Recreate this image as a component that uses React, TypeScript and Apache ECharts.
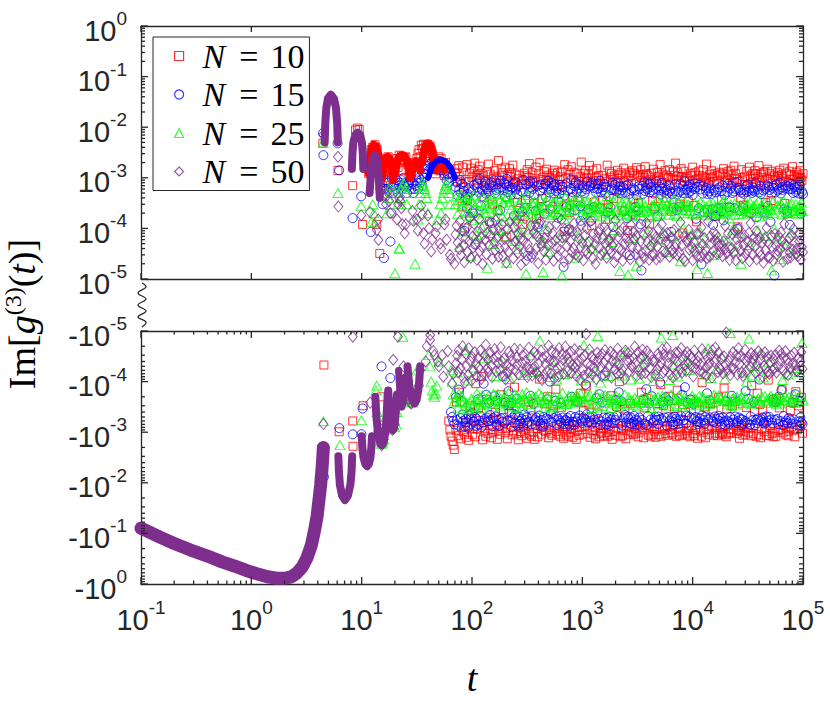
import React, { useEffect, useRef } from "react";
import * as echarts from "echarts";

// ================= data =================
// Mid-time values (t = 12.6 ... 69) are in units of 1e-4.
const UNIT = 1e-4;
const tMidA = [
  12.59, 13.18, 13.8, 14.45, 15.14, 15.85, 16.6, 17.38, 18.2, 19.05,
  19.95, 20.89, 21.88, 22.91, 23.99, 25.12, 26.3, 27.54, 28.84, 30.2,
  31.62, 33.11, 34.67, 36.31, 38.02, 39.81, 41.69, 43.65, 45.71, 47.86,
  50.12, 52.48, 54.95, 57.54, 60.26, 63.1, 66.07, 69.18,
];
const tMidB = [
  12.88, 13.49, 14.13, 14.79, 15.49, 16.22, 16.98, 17.78, 18.62, 19.5,
  20.42, 21.38, 22.39, 23.44, 24.55, 25.7, 26.92, 28.18, 29.51, 30.9,
  32.36, 33.88, 35.48, 37.15, 38.9, 40.74, 42.66, 44.67, 46.77, 48.98,
  51.29, 53.7, 56.23, 58.88, 61.66, 64.57, 67.61,
];
const m10a = [40, 45, 36, 18, -2, 12, 22, 26, 20, -7.8, 14, 24, 28, 27, 22, 26, 18, 10, 16, 20, 24, 36, 44, 46, 44, 46, 42, 30, 18, 22, 26, 24, 16, 20, 12, -9, -15, -22];
const m10b = [30, 40, 25, 8, 7, 16, 24, 15, 10, -3, 18, 16, 22, 14, 25, 20, 13, 12, 19, 13, 30, 26, 38, 30, 40, 34, 36, 22, 12, 17, 14, 20, 11, 15, -6, -12, -18];
const m15a = [26, 28, 22, 12, -0.5, 6, 9, 8, -0.85, 5, 8, 9, 7, 9, 10, 8, 7, 9, 8, 6, 8, 10, 9, 12, 15, 17, 19, 21, 23, 22, 20, 21, 18, 14, 12, 10, -5, -7];
const m15b = [20, 24, 16, 6, 3, 8, 6, 5, 2, 7, 6, 5, 8, 6, 7, 5, 8, 6, 5, 7, 6, 8, 7, 10, 12, 14, 16, 17, 19, 15, 17, 14, 12, 9, 8, -4, -6];
const m25a = [3, 1.3, -4, -12, -17, -14, -5, 4, 7, -3, -8, -4, 0.4, 6, 8, 5, -0.8, -2.2, -2.6, -2, -0.6, 3, 6, 7, 5, 2, -0.5, -1.5, -2, -1.2, -0.4, 2, 5, 7, 6, 3, -1, -2.5];
const m25b = [2, -1.5, -8, -15, -16, -9, 2, 6, 5, -6, -7, 3, 4, 7, 6, 3, -1.6, -2.5, -2.4, -1.4, 1.5, 5, 8, 6, 4, -0.3, -1, -1.8, -1.7, 1.5, 3, 4, 6, 8, 5, -0.6, -1.8];
const m50a = [24, 28, 12, -8, -18, -14, 3, 5.5, 2, -9, -7, 1.5, 4, 2.5, -0.5, 1.2, -1.5, -2.6, 2.2, -2.4, 1.5, -1.2, 2.8, 0.8, -0.4, 1.8, -0.15, 0.6, -0.3, 1.1, -0.5, 0.4, -0.8, 1.5, -0.25, 0.3, -1.1, 0.2];
const m50b = [27, 20, 1.5, -14, -17, -9, 4.5, 3.5, -4, -8.5, -3, 3, 3.5, 1.2, 0.8, -0.9, -2.2, -2.7, 1.4, -1.8, 0.9, -0.6, 1.9, 0.5, -0.2, 1.0, 0.35, -0.25, 0.8, -0.4, 0.5, -0.3, 1.2, 0.6, -0.5, 0.25, -0.7];

// Late-time samples (t = 70.8 ... 1e5). Values are given as signed codes c:
// value = sign(c) * 10^(-|c|/100), i.e. |c| is -log10|value| in hundredths.
const tLate = [
  70.79, 71.61, 72.44, 73.28, 74.13, 74.99, 75.86, 76.74, 77.62, 78.52, 79.43, 80.35, 81.28, 82.22, 83.18, 84.14, 85.11, 86.1, 87.1, 88.1,
  89.13, 90.16, 91.2, 92.26, 93.33, 94.41, 95.5, 96.61, 97.72, 98.86,
  100, 101.2, 102.3, 103.5, 104.7, 105.9, 107.2, 108.4, 109.6, 110.9, 112.2, 113.5, 114.8, 116.1, 117.5, 118.9, 120.2, 121.6, 123, 124.5,
  125.9, 127.4, 128.8, 130.3, 131.8, 133.4, 134.9, 136.5, 138, 139.6, 141.3, 142.9, 144.5, 146.2, 147.9, 149.6, 151.4, 153.1, 154.9, 156.7,
  158.5, 160.3, 162.2, 164.1, 166, 167.9, 169.8, 171.8, 173.8, 175.8, 177.8, 179.9, 182, 184.1, 186.2, 188.4, 190.5, 192.8, 195, 197.2,
  199.5, 201.8, 204.2, 206.5, 208.9, 211.3, 213.8, 216.3, 218.8, 221.3, 223.9, 226.5, 229.1, 231.7, 234.4, 237.1, 239.9, 242.7, 245.5, 248.3,
  251.2, 254.1, 257, 260, 263, 266.1, 269.2, 272.3, 275.4, 278.6, 281.8, 285.1, 288.4, 291.7, 295.1, 298.5, 302, 305.5, 309, 312.6,
  316.2, 319.9, 323.6, 327.3, 331.1, 335, 338.8, 342.8, 346.7, 350.8, 354.8, 358.9, 363.1, 367.3, 371.5, 375.8, 380.2, 384.6, 389, 393.6,
  398.1, 402.7, 407.4, 412.1, 416.9, 421.7, 426.6, 431.5, 436.5, 441.6, 446.7, 451.9, 457.1, 462.4, 467.7, 473.2, 478.6, 484.2, 489.8, 495.5,
  501.2, 507, 512.9, 518.8, 524.8, 530.9, 537, 543.3, 549.5, 555.9, 562.3, 568.9, 575.4, 582.1, 588.8, 595.7, 602.6, 609.5, 616.6, 623.7,
  631, 638.3, 645.7, 653.1, 660.7, 668.3, 676.1, 683.9, 691.8, 699.8, 707.9, 716.1, 724.4, 732.8, 741.3, 749.9, 758.6, 767.4, 776.2, 785.2,
  794.3, 803.5, 812.8, 822.2, 831.8, 841.4, 851.1, 861, 871, 881, 891.3, 901.6, 912, 922.6, 933.3, 944.1, 955, 966.1, 977.2, 988.6,
  1000, 1012, 1023, 1035, 1047, 1059, 1072, 1084, 1096, 1109, 1122, 1135, 1148, 1161, 1175, 1189, 1202, 1216, 1230, 1245,
  1259, 1274, 1288, 1303, 1318, 1334, 1349, 1365, 1380, 1396, 1413, 1429, 1445, 1462, 1479, 1496, 1514, 1531, 1549, 1567,
  1585, 1603, 1622, 1641, 1660, 1679, 1698, 1718, 1738, 1758, 1778, 1799, 1820, 1841, 1862, 1884, 1905, 1928, 1950, 1972,
  1995, 2018, 2042, 2065, 2089, 2113, 2138, 2163, 2188, 2213, 2239, 2265, 2291, 2317, 2344, 2371, 2399, 2427, 2455, 2483,
  2512, 2541, 2570, 2600, 2630, 2661, 2692, 2723, 2754, 2786, 2818, 2851, 2884, 2917, 2951, 2985, 3020, 3055, 3090, 3126,
  3162, 3199, 3236, 3273, 3311, 3350, 3388, 3428, 3467, 3508, 3548, 3589, 3631, 3673, 3715, 3758, 3802, 3846, 3890, 3936,
  3981, 4027, 4074, 4121, 4169, 4217, 4266, 4315, 4365, 4416, 4467, 4519, 4571, 4624, 4677, 4732, 4786, 4842, 4898, 4955,
  5012, 5070, 5129, 5188, 5248, 5309, 5370, 5433, 5495, 5559, 5623, 5689, 5754, 5821, 5888, 5957, 6026, 6095, 6166, 6237,
  6310, 6383, 6457, 6531, 6607, 6683, 6761, 6839, 6918, 6998, 7079, 7161, 7244, 7328, 7413, 7499, 7586, 7674, 7762, 7852,
  7943, 8035, 8128, 8222, 8318, 8414, 8511, 8610, 8710, 8810, 8913, 9016, 9120, 9226, 9333, 9441, 9550, 9661, 9772, 9886,
  10000, 10116, 10233, 10351, 10471, 10593, 10715, 10839, 10965, 11092, 11220, 11350, 11482, 11614, 11749, 11885, 12023, 12162, 12303, 12445,
  12589, 12735, 12882, 13032, 13183, 13335, 13490, 13646, 13804, 13964, 14125, 14289, 14454, 14622, 14791, 14962, 15136, 15311, 15488, 15668,
  15849, 16032, 16218, 16406, 16596, 16788, 16982, 17179, 17378, 17579, 17783, 17989, 18197, 18408, 18621, 18836, 19055, 19275, 19498, 19724,
  19953, 20184, 20417, 20654, 20893, 21135, 21380, 21627, 21878, 22131, 22387, 22646, 22909, 23174, 23442, 23714, 23988, 24266, 24547, 24831,
  25119, 25410, 25704, 26002, 26303, 26607, 26915, 27227, 27542, 27861, 28184, 28510, 28840, 29174, 29512, 29854, 30200, 30549, 30903, 31261,
  31623, 31989, 32359, 32734, 33113, 33497, 33884, 34277, 34674, 35075, 35481, 35892, 36308, 36728, 37154, 37584, 38019, 38459, 38905, 39355,
  39811, 40272, 40738, 41210, 41687, 42170, 42658, 43152, 43652, 44157, 44668, 45186, 45709, 46238, 46774, 47315, 47863, 48417, 48978, 49545,
  50119, 50699, 51286, 51880, 52481, 53088, 53703, 54325, 54954, 55590, 56234, 56885, 57544, 58210, 58884, 59566, 60256, 60954, 61660, 62373,
  63096, 63826, 64565, 65313, 66069, 66834, 67608, 68391, 69183, 69984, 70795, 71614, 72444, 73282, 74131, 74989, 75858, 76736, 77625, 78524,
  79433, 80353, 81283, 82224, 83176, 84140, 85114, 86099, 87096, 88105, 89125, 90157, 91201, 92257, 93325, 94406, 95499, 96605, 97724, 98855,
  100000,
];

const c10 = [
  289, -304, -360, 282, 307, -293, 276, -379, 298, 310, -287, -309, 356, 279, -301, 318, -296, 399, -319, 303,
  -290, 274, 344, -313, -284, 308, 292, -352, -328, 281, 299, -295, 370, -307, 287, 271, -291, -396, 305, 295,
  -306, 284, -347, 300, 277, -323, 291, -410, 311, -285, -314, 296, 339, -303, 306, -292, 319, -365, 288, -297,
  273, -321, 386, 293, -305, -289, 315, 352, -300, 297, -326, 286, -339, 309, 300, -311, -286, 364, 266, -304,
  304, -296, -374, 283, 296, -307, 290, -345, -320, 312, 279, -299, 417, -308, -287, 294, 307, -353, 282, -324,
  298, 289, -337, -295, 275, -303, 310, -389, 293, 320, -317, -297, 349, 302, -285, -309, 295, 375, -301, 313,
  -293, 305, 392, -306, -318, 291, -298, 343, 296, -288, 284, -314, -360, 299, 272, -295, 311, -344, -292, 290,
  308, -300, 351, -286, 301, -322, 279, 380, -307, -291, 314, 292, -405, 270, -313, 304, -296, 341, -310, 299,
  -304, 288, -356, 312, -301, 283, 306, -370, 295, -289, -305, 300, 362, -298, 309, -294, 291, -340, 303, 285,
  -308, 296, -385, -302, 317, 290, -296, 347, -313, 304, -292, 298, -349, 287, 313, -300, -288, 406, 274, -311,
  301, -295, 354, -306, 284, -292, -321, 369, 293, -299, 278, -308, 338, -290, 304, 289, -315, -362, 311, -286,
  292, -303, 346, 307, -294, -310, 298, -377, 269, -305, 315, -296, -343, 291, 302, -312, 286, -391, 299, 308,
  -298, 294, -354, 276, -290, 311, -319, 395, -303, 285, 306, -295, 348, -309, -287, 300, 282, -338, -314, 296,
  305, -291, 360, -300, 313, -297, 295, 344, -308, -293, 302, -316, 382, 307, -299, 275, -292, 353, -305, 287,
  -295, 299, -372, 292, -286, 304, -302, 341, 296, -318, 309, -294, -351, 301, 285, -307, 294, -400, 316, -291,
  290, -306, 365, -293, -304, 281, 308, -346, 293, -287, -313, 305, 404, -296, 300, -310, 289, -357, 296, 312,
  -300, 286, 342, -295, 291, -308, -297, 374, 280, -304, 294, -291, 350, -300, -318, 298, 284, -379, 305, -309,
  295, -289, -348, 300, 278, -314, 292, -366, 309, 296, -294, -306, 391, 304, -292, 291, -311, 345, -296, 283,
  311, -302, 357, -290, -307, 302, 289, -341, 297, -295, 305, 274, -394, -292, 310, -308, 293, -353, 298, -304,
  286, -297, 340, 295, -311, -294, 300, -371, 284, -305, 313, -299, 366, -296, 302, 288, -314, -347, 295, 271,
  -292, 304, -383, 290, 297, -301, -293, 352, -306, 282, 299, -295, 409, -317, 287, 306, -298, -339, 301, -303,
  298, -294, 347, -308, 305, -291, 292, -364, -313, 296, 279, -297, 355, -293, 290, -305, 303, 387, -310, -288,
  301, 287, -344, 295, -304, 309, -292, -398, 297, 284, -300, 306, -350, -289, 302, 273, -307, 363, -296, 308,
  -305, 293, -356, 300, 286, -312, 298, -342, -294, 307, 292, -298, 376, -306, 296, -293, 312, -369, 289, -297,
  294, -309, 343, -296, -300, 291, 282, -387, 310, -295, 299, -291, -346, 305, 288, -298, 293, 359, -307, 285,
  -299, 296, -352, 309, -305, 277, 301, -361, 292, -310, -297, 303, 397, -301, 307, -288, -304, 340, 284, -314,
  306, -294, 354, -302, 298, 313, -296, -349, 287, -307, 302, -300, 368, 279, -309, 298, -293, -392, 310, 292,
  -297, 301, -341, 286, 294, -292, 309, -377, 298, -295, 276, 305, -355, -289, 293, -307, 300, -344, 289, 314,
  -301, 288, 349, -306, -293, 302, 283, -403, 311, -294, 292, -313, 345, 287, -297, 304, -291, -360, 295, -300,
  304, -292, -366, 297, 290, -303, 298, -348, 285, 308, -305, 294, -384, 302, -299, 281, -314, 351, 306, -295,
  291, -307, 371, -293, -302, 309, 287, -343, 295, -310, 303, 278, -358, -304, 297, -291, 312, -380, 289, 298,
  -305, 294, -352, 301, 286, -312, 299, -369, 305, -298, 292,
];
const c15 = [
  318, -369, 309, -324, 335, -313, -384, 323, 304, -328, 330, -361, 312, -335, -322, 326, 405, -311, 339, -326,
  -320, 360, 332, -309, -333, 321, 377, -325, 328, -316, -338, 368, 324, -321, 314, -330, 432, -313, -327, 319,
  311, -365, -315, 329, 303, -332, 356, -310, 337, 325, -319, -396, 316, -326, 308, 331, -374, -329, 322, -322,
  327, -358, 313, -334, -324, 309, 389, -312, -328, 318, 305, -371, 330, -331, 324, -315, -362, 312, 321, -325,
  -313, 364, 306, -327, 319, -321, -410, 325, 310, -318, 338, -359, 314, 302, -323, 328, -381, 317, -340, 323,
  334, -357, -310, 320, -329, 312, 375, -319, -334, 308, 323, -366, 332, -313, 316, -331, 361, -322, 326, -317,
  -326, 367, 329, -312, 304, -335, 360, -324, 313, -330, -318, 454, 311, -321, 330, 307, -372, 319, -315, -332,
  322, -356, 310, 333, -325, -314, 365, -329, 316, 398, -322, 391, -333, 326, -317, 313, 359, -324, -311, 320,
  -330, 371, -316, 312, 339, -327, -365, 317, 306, -325, 329, -400, 322, -336, 310, -320, 357, 315, -328, 331,
  313, -362, 326, -331, -315, 321, 379, -326, 332, -322, 314, -358, -319, 324, 318, -329, 476, -316, 335, -323,
  -324, 358, 311, -328, 325, -317, 402, -313, -332, 322, 303, -370, 328, -320, -314, 316, 364, -330, 309, -321,
  328, -360, -327, 314, 321, -333, 356, 385, -323, 327, -318, 373, -329, 319, 330, -324, -394, 323, -335, 307,
  -319, 362, 317, -322, -330, 315, 385, -317, 309, -331, 320, 358, -325, 313, -319, 329, -367, 322, 311, -326,
  321, -375, 306, -314, 329, -321, -359, 324, 318, -329, 312, -412, 331, 319, -315, -328, 368, -320, 337, -313,
  -331, 359, 324, -325, 310, -318, 397, -330, 322, 314, -324, -363, 327, -332, 309, 323, -379, 330, -317, 318,
  325, -361, -313, 331, 319, -327, 366, -334, 329, -319, 315, 380, -331, 313, -326, 332, 453, -318, -329, 324,
  -316, 371, 321, -320, -332, 324, 358, -325, 334, -315, -322, 365, 317, -329, 322, -313, 392, 483, -324, 316,
  332, -364, 309, -317, 326, 320, -385, -314, 323, -332, 313, -357, 329, 311, -325, 318, -371, 325, -319, 331,
  -323, 361, -330, 322, 308, -324, 376, -316, -331, 325, 317, -398, 333, -327, 310, 321, -360, -322, 328, -329,
  319, -369, 324, -313, 331, -330, -362, 315, 327, -323, 321, 407, -328, 332, -320, -315, 359, -331, 313, 326,
  -327, 364, 333, -322, -316, 328, 357, -325, 312, -332, 325, -374, 316, 330, -324, 307, -389, 323, -317, -333,
  324, -358, 317, 329, -331, 313, -365, 326, -328, 319, 334, -356, -326, 322, 311, -330, 381, -322, 318, -316,
  -321, 360, 314, -327, 323, -319, 471, -333, 331, 316, -324, 368, -317, -330, 325, 320, -377, 332, -325, 312,
  327, -363, -329, 321, 332, -323, 362, 393, -320, 325, -331, 375, 329, -318, -326, 323, 361, -332, 319, -322,
  -328, 366, 326, -316, 315, -329, 384, -321, 334, -314, 319, -361, -323, 328, 312, -320, 358, -317, -330, 321,
  316, -372, 330, -319, -325, 327, 360, -331, 322, 309, -318, 401, -322, 320, -329, 325, 365, -326, 329, -314,
  -325, 359, -317, 332, 324, -322, -381, 316, 328, -319, 313, -366, 326, 321, -315, -331, 370, 330, -323, 324,
  320, -360, 327, -314, 311, -324, 378, -318, -327, 323, 329, -404, -322, 317, 332, -325, 363, -329, 325, -320,
  -317, 369, 322, -331, -319, 315, 356, -323, 318, -330, 324, 387, -325, 331, -318, 320, -365, 316, 493, -324,
  329, -359, 313, -326, 325, -316, -370, 322, 310, -322, 331, -383, 319, 324, -314, -332, 362, -319, 321, 315,
  -323, 365, -318, 317, -328, 323, 393, -324, 312, -317, 322, -358, 330, 315, -325, 319, -375, 328, -315, 323,
  318, -362, 331, -321, 314, -329, 371, -319, 327, -316, 332,
];
const c25 = [
  352, -368, 337, -418, 371, -349, -376, 344, 437, -362, 333, -371, 358, 406, -345, -360, 347, 366, -463, 341,
  -357, 369, 350, -402, -347, 339, 375, -358, 455, -366, 346, 383, -352, -428, 335, 357, -363, -349, 412, -377,
  348, -361, 364, 421, -369, -354, 380, -347, 399, -373, 338, 367, -360, -447, 351, -356, 370, -365, 478, 359,
  -372, 345, -358, 409, 356, -364, -350, 340, 431, -376, 353, -362, 377, -411, -368, 362, 332, -375, 403, -355,
  365, -351, 343, -436, -359, 376, 349, -366, 416, 385, -373, 341, -357, 468, 336, -363, -378, 354, -405, 347,
  -359, 361, -367, 398, 374, -352, 339, -374, 425, -360, 371, -349, -371, 441, 380, -358, 352, -365, 407, -346,
  342, -375, 358, -413, -365, 367, 354, -361, 489, -379, 362, 334, -356, 402, -367, -350, 359, 372, -452, 350,
  -368, 353, 379, -419, 347, -370, -357, 364, 410, -364, 356, -377, 369, -481, 343, 360, -372, -359, 429, 486,
  357, -363, -349, 401, 345, -358, 366, -371, 446, 337, -366, 378, -352, -409, 361, -349, 373, 348, -433, -369,
  -354, 368, 346, -404, -362, 356, 372, -350, 418, -368, 342, -360, 367, 493, -378, 352, -355, 381, -415, 339,
  364, -356, 371, -440, 358, -372, -363, 349, 405, -359, 351, 365, -370, -417, 344, -367, 362, -357, 458, -373,
  -361, 350, -369, 414, 338, -365, 357, -376, -402, 373, 348, -362, 359, -472, 377, 346, -358, -371, 426, 366,
  347, -370, 363, -408, -374, 352, 368, -348, 439, -364, -357, 374, 343, -421, 356, -375, 350, 362, -490, -351,
  -366, 359, 355, -398, 375, -369, -352, 361, 412, -358, 369, -373, -363, 451, 364, 336, -370, 357, -411, 372,
  360, -348, -365, 427, 370, -359, 345, -367, 403, 379, -356, -372, 363, -437, 341, -364, 367, -368, 484, -357,
  -351, 374, 349, -412, -358, 363, 356, -374, -459, 347, 372, -355, 360, 491, -369, 351, -363, 365, -404, 376,
  366, -362, -354, 419, 346, -368, 359, -357, 474, -364, -351, 355, 368, -406, 348, -359, 374, -366, -429, 361,
  -358, 349, 367, -445, 357, -353, -367, 364, 408, -362, 366, -358, -373, 432, 378, -348, 355, 360, -401, -363,
  353, -366, 358, -416, -362, 375, 344, -370, 422, -356, 349, 371, -364, -487, 365, -372, 352, -361, 409, 345,
  -370, 362, -357, 447, 352, -363, 373, -351, -403, 356, 360, -374, 350, 415, -492, 343, -367, 372, -434, -365,
  361, -352, 375, -410, 347, -371, -356, 358, 465, -366, 354, -350, 363, 400, -362, -369, 348, 356, -442, 364,
  -363, 370, 353, -423, -353, 366, 358, -359, 411, -372, 371, -363, -357, 438, 350, -366, 373, -354, 480, -360,
  355, -361, -372, 406, 348, -357, 368, -369, 429, 352, -368, 365, -351, -414, 374, 357, -364, 488, -466, 366,
  -356, 351, 363, -407, 372, -365, -359, 349, 453, -374, 357, 362, -361, -425, 369, -367, 355, -372, 417, 371,
  368, -367, 352, -449, 359, 346, -362, 370, -405, -364, 363, 349, -371, 424, -355, 366, 380, -360, -496, 353,
  -352, 364, -366, 402, -368, 373, 351, -355, 444, 361, -370, 354, -363, 409, 372, -358, -366, 363, 470, -371,
  359, -357, 371, -418, 350, -369, 365, 356, -400, 352, 368, -359, -485, 433, 349, -366, 360, -355, -412, 362,
  -365, 355, 360, -431, -357, 352, 369, -363, 404, -367, 344, 376, -358, -457, 366, 353, -369, 359, -408, 370,
  350, -371, 366, 415, -364, -358, 361, 373, -439, -368, 356, 363, -372, 483, -361, 369, 347, -366, 401, -359,
  -368, 362, -355, 420, 354, -363, -370, 358, 461, -357, 351, -369, 372, -403, 359, 346, -362, -371, 436, 367,
  356, -364, 368, -414, -369, 360, 353, -362, 408, 350, -366, 365, -360, 448, -373, 364, -358, 352, -427, 371,
  -361, 358, 369, -419, 355, -372, 363, 349, -476, 366, -363,
];
const c50 = [
  412, -436, 395, -451, 428, -419, -462, 441, 386, -427, 453, -444, 404, -470, -408, 433, 467, -398, 420, -455,
  -431, 398, 447, -413, -466, 425, 379, -440, 458, -402, -449, 416, 438, -421, 391, -458, 430, -435, -410, 462,
  407, -447, -428, 381, 445, -461, 417, -405, 436, 470, -438, -416, 396, -452, 423, -473, 451, 409, -426, -443,
  -419, 433, 389, -457, 414, -432, -409, 460, 402, -445, 427, -464, 443, 384, -420, -450, 418, -437, 456, 399,
  440, -423, -468, 410, 392, -439, 455, -413, -446, 421, 437, -404, 468, -433, -418, 401, 446, -459, 388, -427,
  -451, 415, 432, -441, -407, 459, 397, -465, 426, -422, 385, -448, -434, 449, 411, -414, 435, -463, 420, 472,
  403, -437, -452, 425, 448, -418, 380, -441, 463, -429, -409, 431, 413, -467, 442, -424, -448, 395, 457, -412,
  -425, 450, 408, -458, -430, 393, 440, -417, 415, -453, 469, -436, -411, 422, 387, -461, 434, -403, -447, 426,
  445, -413, 419, -435, 462, -449, -421, 406, 432, -471, 398, -442, 451, -416, -460, 429, 410, -439, 464, -406,
  -440, 424, -456, 391, 438, -426, 454, -410, -466, 413, 443, -431, 383, -454, 418, -443, -415, 466, 402, -469,
  416, -452, 435, -420, -445, 403, 460, -438, 425, -459, -417, 447, 405, -433, 439, 390, -464, -428, 452, -411,
  -434, 409, -441, 456, 421, -460, -404, 437, 394, -446, 428, -423, 463, -412, -451, 414, 444, -494, 400, -436,
  449, -418, 427, -463, 387, -432, 441, -450, -414, 459, 411, -444, -427, 432, 470, -405, 419, -457, -439, 408,
  -447, 438, 401, -429, 453, -411, -455, 420, 446, -437, 396, -462, 430, -419, 458, 404, -449, 424, -430, 441,
  423, -459, 448, -408, -441, 434, 412, -453, 467, -425, 384, -439, 455, -416, -465, 417, 439, -433, 406, -452,
  -416, 442, -424, 464, 399, -450, 431, -405, -461, 419, 450, -442, 408, -456, 427, -420, -444, 461, 393, -431,
  436, -428, 407, -446, 422, -469, -436, 451, 415, -411, 440, -458, -422, 397, 466, -447, 425, -415, 448, -463,
  -450, 413, 458, -433, -417, 444, 389, -460, 428, -440, 405, 462, -427, -452, 435, -409, 453, -442, 410, 429,
  452, -441, -413, 418, 461, -423, 436, -455, 401, -448, -431, 457, 420, -437, 392, -464, 445, -418, -454, 415,
  -423, 447, 426, -467, 409, -435, -449, 430, 456, -414, 418, -452, 443, -429, -408, 449, 403, -445, 437, -457,
  430, -414, 453, -439, -458, 412, 447, -424, 388, -466, 434, -418, -443, 460, 416, -432, 465, -451, -421, 425,
  -458, 421, -437, 403, 442, -453, 418, -431, -447, 438, 463, -410, 427, -461, 445, -426, -436, 411, 455, -440,
  411, -449, 440, -421, -434, 457, 398, -464, 432, -417, 451, 419, -455, 442, -428, -412, 459, -446, 386, -433,
  -437, 456, 416, -452, 430, -408, -462, 445, 407, -439, 424, -467, 413, -444, 450, 427, -419, -457, 434, -426,
  447, -424, -446, 433, 455, -416, 426, -450, 441, 395, -433, -497, 449, -422, 410, -441, 438, 462, -413, -449,
  -428, 439, 412, -458, -425, 448, 404, -437, 463, -452, 421, -414, 435, -466, 400, -435, -450, 444, 417, -418,
  459, -411, 433, -445, 414, -463, 451, -420, -440, 426, 443, -448, 409, 465, -429, 390, -456, 431, -438, 452,
  -445, 418, -452, 437, -417, 406, 461, -434, 422, -460, -424, 446, 419, -443, 454, -453, 428, -410, 468, -431,
  420, -458, 443, -426, 399, -448, -419, 456, 430, -415, 458, -438, -451, 415, 437, -422, 464, -444, -427, 411,
  -453, 434, -418, 452, 444, -430, 415, -461, -442, 441, 408, -455, 425, -423, 466, -447, 391, 432, -460, -416,
  433, -444, 460, -413, -436, 419, 448, -426, 457, -451, 414, -435, 442, 401, -457, 428, -433, 450, -421, 440,
  -420, 455, -447, 426, 411, -439, 462, -458, 437, -425, 447,
];

// sparse early points of each series (units of 1e-4)
const e10T = [4.45, 4.5, 4.55, 6.1, 6.25, 8.28, 8.3, 8.8, 9.15, 9.5, 8.35, 10.2, 10.3, 11.6, 11.9, 12.2, 13.7, 14.6];
const e10V = [48, -51, -0.47, 14, -9.8, 7, -6, 88, 96, 90, -19, 1.2, -3, 12, 25, 36, 1.2, 0.32];
const e15T = [4.48, 4.5, 4.52, 4.55, 6.05, 6.25, 6.28, 8.28, 8.3, 9.9, 10.2, 9.95, 12.1, 15.9, 18.2];
const e15V = [77, 28, -21, -76, 48, 14, -8.3, 1.6, -11, 4.3, -3.4, -11, 0.85, 0.26, 0.55];
const e25T = [4.48, 4.5, 6.1, 6.35, 9.9, 9.95, 12.3, 13.7, 20, 21.9, 23.6, 30.5];
const e25V = [50, -6.1, 5, -18, 2.8, -5.8, 1.35, -1.2, 0.13, 0.4, -0.13, 0.2];
const e50T = [4.48, 4.5, 6.1, 6.15, 8.3, 9.9, 11.9, 11.95, 13.7, 14.2, 19.3, 21.3, 41.8];
const e50V = [70, -6.9, 26, 2.7, -0.13, 1.8, 2.1, -2.6, 0.93, 0.59, -0.37, -0.13, -0.12];

// dense (overlapping-marker) parts: curve values absolute, lobes/arches in 1e-4
const curveT = [0.1, 0.15, 0.2, 0.3, 0.4, 0.55, 0.7, 0.9, 1.1, 1.4, 1.7, 2.0, 2.3, 2.6, 2.9, 3.2, 3.5, 3.75, 3.95, 4.1, 4.25, 4.38, 4.5];
const curveV = [-0.079, -0.12, -0.158, -0.225, -0.28, -0.37, -0.44, -0.54, -0.62, -0.72, -0.77, -0.77, -0.72, -0.6, -0.46, -0.3, -0.17, -0.085, -0.045, -0.022, -0.011, -0.005, -0.002];
const lobeAT = [4.62, 4.68, 4.78, 4.95, 5.25, 5.6, 5.85, 6.0, 6.08];
const lobeAV = [50, 120, 240, 370, 440, 370, 240, 120, 50];
const lobeBT = [8.15, 8.25, 8.4, 8.75, 9.2, 9.7, 10.05, 10.25, 10.35];
const lobeBV = [15, 30, 50, 70, 78, 70, 50, 30, 15];
const lobeCT = [11.8, 12.2, 12.7, 13.2, 13.8, 14.3, 14.6];
const lobeCV = [5, 14, 24, 28, 22, 10, 4];
const lobeDT = [6.15, 6.22, 6.35, 6.65, 7.05, 7.5, 7.9, 8.1, 8.2];
const lobeDV = [-30, -60, -110, -180, -220, -180, -110, -60, -30];
const lobeET = [10.0, 10.15, 10.4, 10.8, 11.2, 11.6, 12.0, 12.25, 12.4];
const lobeEV = [-12, -20, -32, -43, -47, -43, -32, -20, -12];
const lobeFT = [13.3, 13.6, 14.1, 14.8, 15.3, 15.9, 16.5, 16.9, 17.2];
const lobeFV = [-2, -5, -11, -17, -18, -15, -9, -4, -1.8];
const lobeGT = [17.4, 17.8, 18.4, 19.1, 19.8, 20.4, 20.9];
const lobeGV = [-1.5, -3.5, -7, -9, -7.5, -4, -1.8];
const lobeG2T = [21.6, 22.3, 23.2, 24.2, 25.0];
const lobeG2V = [-0.6, -1.8, -3.2, -2.2, -0.8];
const lobeHT = [26, 27, 28.5, 30, 31.5, 33, 34];
const lobeHV = [-0.5, -1.2, -2.2, -2.7, -2.3, -1.2, -0.5];
const redArchT = [
  [11.6, 11.9, 12.3, 12.9, 13.5, 14.1, 14.6],
  [15.4, 15.9, 16.6, 17.3, 18.0, 18.7, 19.2],
  [20.1, 20.8, 21.8, 23.0, 24.3, 25.6, 26.8, 27.5],
  [28.3, 29.5, 31.0, 32.5, 34.0],
  [35.5, 36.5, 38.0, 40.0, 42.0, 44.0, 45.8],
  [46.5, 48.5, 51.0, 53.5, 56.0],
];
const redArchV = [
  [12, 25, 38, 45, 42, 30, 15],
  [10, 18, 24, 26, 23, 16, 9],
  [12, 20, 26, 28, 27, 22, 15, 10],
  [12, 18, 21, 19, 14],
  [20, 32, 44, 48, 44, 32, 20],
  [14, 20, 22, 20, 14],
];
const blueArchT = [40, 43, 47, 52, 58, 64, 70];
const blueArchV = [10, 16, 21, 23, 21, 16, 10];

const legendNames = ["N = 10", "N = 15", "N = 25", "N = 50"];
const decadesX = [0.1, 1, 10, 100, 1000, 10000, 100000];
const decadesY = [1e-5, 1e-4, 1e-3, 1e-2, 1e-1, 1];

// ================= styling =================
const AX = "#262626";
const SANS = "Liberation Sans";
const SERIF = "Liberation Serif";
const RED = "#FF0000";
const BLUE = "#0000FF";
const GREEN = "#00FF00";
const PURPLE = "#7E2F8E";

const SER = [
  { name: legendNames[0], color: RED, symbol: "rect", size: 8 as any, ma: m10a, mb: m10b, c: c10, eT: e10T, eV: e10V },
  { name: legendNames[1], color: BLUE, symbol: "circle", size: 9 as any, ma: m15a, mb: m15b, c: c15, eT: e15T, eV: e15V },
  { name: legendNames[2], color: GREEN, symbol: "triangle", size: [10, 9] as any, ma: m25a, mb: m25b, c: c25, eT: e25T, eV: e25V },
  { name: legendNames[3], color: PURPLE, symbol: "diamond", size: [9, 11] as any, ma: m50a, mb: m50b, c: c50, eT: e50T, eV: e50V },
];

function pick(ts: number[], vs: number[], scale: number, sign: number) {
  const out: number[][] = [];
  for (let i = 0; i < Math.min(ts.length, vs.length); i++) {
    const v = vs[i] * scale;
    if (sign > 0 ? v > 0 : v < 0) out.push([ts[i], Math.abs(v)]);
  }
  return out;
}
function pickCodes(ts: number[], cs: number[], sign: number) {
  const out: number[][] = [];
  for (let i = 0; i < Math.min(ts.length, cs.length); i++) {
    const c = cs[i];
    if (sign > 0 ? c > 0 : c < 0) out.push([ts[i], Math.pow(10, -Math.abs(c) / 100)]);
  }
  return out;
}

const minorXVals: number[] = [];
for (let d = -1; d < 5; d++) for (let m = 2; m <= 9; m++) minorXVals.push(m * Math.pow(10, d));
const minorYVals: number[] = [];
for (let d = -5; d < 0; d++) for (let m = 2; m <= 9; m++) minorYVals.push(m * Math.pow(10, d));

const richLab = {
  b: { fontFamily: SANS, fontSize: 29, lineHeight: 29, color: AX, verticalAlign: "bottom" },
  s: { fontFamily: SANS, fontSize: 19, lineHeight: 19, color: AX, verticalAlign: "bottom", padding: [0, 0, 17, 0] },
};
const expOf = (v: number) => Math.round(Math.log10(v));
const lineSt = { color: AX, width: 1.3 };

function logX(grid: number, pos: string, labels: boolean) {
  return {
    type: "log", logBase: 10, gridIndex: grid, position: pos, min: 0.1, max: 1e5,
    axisLine: { show: true, onZero: false, lineStyle: lineSt },
    axisTick: { show: false },
    axisLabel: labels
      ? { show: true, margin: 21, formatter: (v: number) => `{b|10}{s|${expOf(v)}}`, rich: richLab }
      : { show: false },
    splitLine: { show: false },
  };
}
function logY(grid: number, pos: string, inverse: boolean, labels: boolean, prefix: string) {
  return {
    type: "log", logBase: 10, gridIndex: grid, position: pos, min: 1e-5, max: 1, inverse,
    axisLine: { show: true, onZero: false, lineStyle: lineSt },
    axisTick: { show: false },
    axisLabel: labels
      ? { show: true, margin: 14, padding: [9, 0, 0, 0], formatter: (v: number) => `{b|${prefix}10}{s|${expOf(v)}}`, rich: richLab }
      : { show: false },
    splitLine: { show: false },
  };
}

// tick marks drawn through the axes' own scales
function ticks(xi: number, yi: number, vals: number[], dir: "x" | "y", len: number) {
  return {
    type: "custom", xAxisIndex: xi, yAxisIndex: yi, silent: true, clip: false, z: 5,
    data: vals.map((v) => (dir === "x" ? [v, 1e-2] : [1, v])),
    renderItem: (params: any, api: any) => {
      const cs = params.coordSys;
      const p = api.coord([api.value(0), api.value(1)]);
      const st = { stroke: AX, lineWidth: 1.3 };
      if (dir === "x") {
        const x = p[0], yb = cs.y + cs.height, yt = cs.y;
        return {
          type: "group", children: [
            { type: "line", shape: { x1: x, y1: yb, x2: x, y2: yb - len }, style: st },
            { type: "line", shape: { x1: x, y1: yt, x2: x, y2: yt + len }, style: st },
          ],
        };
      }
      const y = p[1], xl = cs.x, xr = cs.x + cs.width;
      return {
        type: "group", children: [
          { type: "line", shape: { x1: xl, y1: y, x2: xl + len, y2: y }, style: st },
          { type: "line", shape: { x1: xr, y1: y, x2: xr - len, y2: y }, style: st },
        ],
      };
    },
  };
}

function buildOption() {
  const series: any[] = [];
  const band = (ts: number[], vs: number[], scale: number, top: boolean, w: number, color: string) => ({
    type: "line", xAxisIndex: top ? 0 : 1, yAxisIndex: top ? 0 : 2, symbol: "none", silent: true,
    lineStyle: { color, width: w, cap: "round", join: "round" }, clip: true,
    data: ts.map((t, i) => [t, Math.abs(vs[i] * scale)]),
  });
  // arches drawn beneath the markers
  redArchT.forEach((ts, k) => series.push(band(ts, redArchV[k], UNIT, true, 8, RED)));
  series.push(band(blueArchT, blueArchV, UNIT, true, 6, BLUE));

  SER.forEach((s) => {
    const common = {
      type: "scatter", name: s.name, symbol: s.symbol, symbolSize: s.size,
      itemStyle: { color: "transparent", borderColor: s.color, borderWidth: 1 },
      emphasis: { disabled: true }, silent: true, clip: true, large: false,
    };
    const part = (sg: number) =>
      pick(s.eT, s.eV, UNIT, sg).concat(
        pick(tMidA, s.ma, UNIT, sg),
        pick(tMidB, s.mb, UNIT, sg),
        pickCodes(tLate, s.c, sg),
      );
    series.push({ ...common, xAxisIndex: 0, yAxisIndex: 0, data: part(1) });
    series.push({ ...common, xAxisIndex: 1, yAxisIndex: 2, data: part(-1) });
  });
  series.push(band(curveT, curveV, 1, false, 13, PURPLE));
  series.push(band(lobeAT, lobeAV, UNIT, true, 8, PURPLE));
  series.push(band(lobeBT, lobeBV, UNIT, true, 8, PURPLE));
  series.push(band(lobeCT, lobeCV, UNIT, true, 8, PURPLE));
  series.push(band(lobeDT, lobeDV, UNIT, false, 8, PURPLE));
  series.push(band(lobeET, lobeEV, UNIT, false, 8, PURPLE));
  series.push(band(lobeFT, lobeFV, UNIT, false, 8, PURPLE));
  series.push(band(lobeGT, lobeGV, UNIT, false, 8, PURPLE));
  series.push(band(lobeG2T, lobeG2V, UNIT, false, 7, PURPLE));
  series.push(band(lobeHT, lobeHV, UNIT, false, 8, PURPLE));

  series.push(ticks(0, 0, decadesX, "x", 6));
  series.push(ticks(0, 0, decadesY, "y", 7));
  series.push(ticks(0, 0, minorYVals, "y", 4));
  series.push(ticks(1, 2, decadesX, "x", 7));
  series.push(ticks(1, 2, minorXVals, "x", 3.5));
  series.push(ticks(1, 2, decadesY, "y", 7));
  series.push(ticks(1, 2, minorYVals, "y", 4));

  return {
    animation: false,
    backgroundColor: "#ffffff",
    grid: [
      { left: 141, top: 26, width: 662, height: 253 },
      { left: 141, top: 331, width: 662, height: 253 },
    ],
    xAxis: [
      logX(0, "bottom", false),
      logX(1, "bottom", true),
      logX(0, "top", false),
      logX(1, "top", false),
    ],
    yAxis: [
      logY(0, "left", false, true, ""),
      logY(0, "right", false, false, ""),
      logY(1, "left", true, true, "-"),
      logY(1, "right", true, false, ""),
    ],
    legend: {
      orient: "vertical", left: 153, top: 37, selectedMode: false, z: 10,
      itemWidth: 9, itemHeight: 9, itemGap: 4.5,
      padding: [2, 5, 2, 21],
      borderColor: AX, borderWidth: 1, backgroundColor: "#ffffff",
      formatter: (name: string) => `{i|N}{e|=}{d|${name.split("= ")[1]}}`,
      textStyle: {
        rich: {
          i: { fontFamily: SERIF, fontStyle: "italic", fontSize: 34, color: "#000", padding: [0, 0, 0, 14] },
          e: { fontFamily: SERIF, fontSize: 34, color: "#000", padding: [0, 0, 0, 14] },
          d: { fontFamily: SERIF, fontSize: 34, color: "#000", padding: [0, 0, 0, 12] },
        },
      },
      data: SER.map((s) => ({
        name: s.name,
        icon: s.symbol,
        itemStyle: { color: "transparent", borderColor: s.color, borderWidth: 1.2 },
      })),
    },
    graphic: [
      {
        type: "text", x: 22, y: 314, rotation: Math.PI / 2,
        style: {
          text: "{r|Im[}{i|g}{s|(3)}{r|(}{i|t}{r|)]}",
          align: "center", verticalAlign: "middle",
          rich: {
            r: { fontFamily: SERIF, fontSize: 38, lineHeight: 38, fill: "#000", verticalAlign: "bottom" },
            i: { fontFamily: SERIF, fontStyle: "italic", fontSize: 38, lineHeight: 38, fill: "#000", verticalAlign: "bottom" },
            s: { fontFamily: SERIF, fontSize: 24, lineHeight: 24, fill: "#000", verticalAlign: "bottom", padding: [0, 0, 16, 0] },
          },
        },
      },
      {
        type: "text", x: 472, y: 678,
        style: {
          text: "t", fontFamily: SERIF, fontStyle: "italic", fontSize: 38, fill: "#000",
          align: "center", verticalAlign: "middle",
        },
      },
      {
        type: "polyline",
        shape: {
          points: [[142, 283], [146, 287], [138, 293], [146, 299], [138, 305], [146, 311], [138, 317], [146, 322], [142, 327]],
          smooth: 0.4,
        },
        style: { stroke: AX, lineWidth: 1.3, fill: "none" },
      },
    ],
    series,
  };
}

export default function App() {
  const ref = useRef<HTMLDivElement>(null);
  useEffect(() => {
    document.body.style.margin = "0";
    const chart = echarts.init(ref.current!, undefined, { renderer: "svg" });
    chart.setOption(buildOption() as any);
    return () => chart.dispose();
  }, []);
  return <div ref={ref} style={{ width: 830, height: 703 }} />;
}
